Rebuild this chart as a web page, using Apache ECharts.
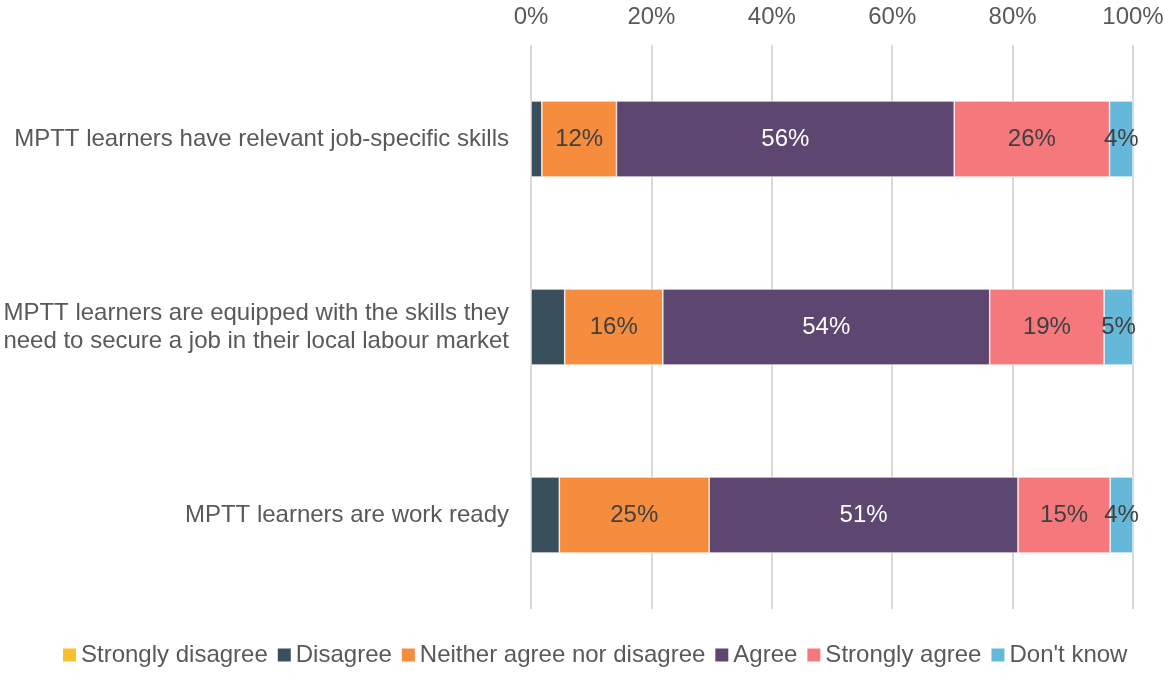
<!DOCTYPE html>
<html>
<head>
<meta charset="utf-8">
<script src="https://cdn.jsdelivr.net/npm/echarts@6/dist/echarts.min.js"></script>
<style>
  html, body { margin: 0; padding: 0; background: #fff; }
  #chart { width: 1164px; height: 674px; }
</style>
</head>
<body>
<div id="chart"></div>
<script>
const categories = [
  'MPTT learners have relevant job-specific skills',
  'MPTT learners are equipped with the skills they\nneed to secure a job in their local labour market',
  'MPTT learners are work ready'
]
const seriesNames = ['Strongly disagree', 'Disagree', 'Neither agree nor disagree', 'Agree', 'Strongly agree', "Don't know"]
const stronglyDisagree = [0, 0, 0]
const disagree = [1.8, 5.6, 4.7]
const neither = [12.4, 16.3, 24.9]
const agree = [56.1, 54.3, 51.3]
const stronglyAgree = [25.8, 19.0, 15.3]
const dontKnow = [3.9, 4.8, 3.8]
const xTicks = [0, 20, 40, 60, 80, 100]

const colors = ['#FBBF2E', '#3A4F5C', '#F68D3E', '#5D4770', '#F4787C', '#66B8DA']
const values = [stronglyDisagree, disagree, neither, agree, stronglyAgree, dontKnow]
const showLabel = [false, false, true, true, true, true]
const labelColor = ['#404040', '#404040', '#404040', '#ffffff', '#404040', '#404040']

const font = '"Liberation Sans", Arial, sans-serif'

let myEcharts = echarts.init(document.getElementById('chart'))

let series = seriesNames.map((name, i) => {
  return {
    name: name,
    type: 'bar',
    stack: 'total',
    barWidth: 76,
    data: values[i],
    itemStyle: {
      color: colors[i],
      borderColor: '#ffffff',
      borderWidth: 0.6
    },
    label: {
      show: showLabel[i],
      position: 'inside',
      color: labelColor[i],
      fontFamily: font,
      fontSize: 24,
      formatter: function (p) {
        return Math.round(p.value) + '%'
      }
    }
  }
})

let option = {
  animation: false,
  color: colors,
  grid: {
    left: 531,
    right: 31,
    top: 45,
    bottom: 65,
    containLabel: false,
    outerBoundsMode: 'none'
  },
  legend: {
    bottom: 2,
    left: 58,
    itemWidth: 13,
    itemHeight: 13,
    itemGap: 10,
    icon: 'rect',
    itemStyle: {
      borderWidth: 0
    },
    textStyle: {
      fontFamily: font,
      fontSize: 24,
      color: '#595959'
    },
    data: seriesNames
  },
  xAxis: {
    type: 'value',
    position: 'top',
    min: 0,
    max: 100,
    interval: 20,
    axisLine: { show: false },
    axisTick: { show: false },
    axisLabel: {
      margin: 16,
      fontFamily: font,
      fontSize: 24,
      color: '#595959',
      formatter: function (v) {
        return xTicks.indexOf(v) >= 0 ? v + '%' : ''
      }
    },
    splitLine: {
      lineStyle: { color: '#D9D9D9', width: 2 }
    }
  },
  yAxis: {
    type: 'category',
    inverse: true,
    data: categories,
    axisLine: { show: false },
    axisTick: { show: false },
    axisLabel: {
      margin: 22,
      fontFamily: font,
      fontSize: 24,
      lineHeight: 28,
      color: '#595959',
      align: 'right'
    }
  },
  series: series
}

myEcharts.setOption(option)
</script>
</body>
</html>
